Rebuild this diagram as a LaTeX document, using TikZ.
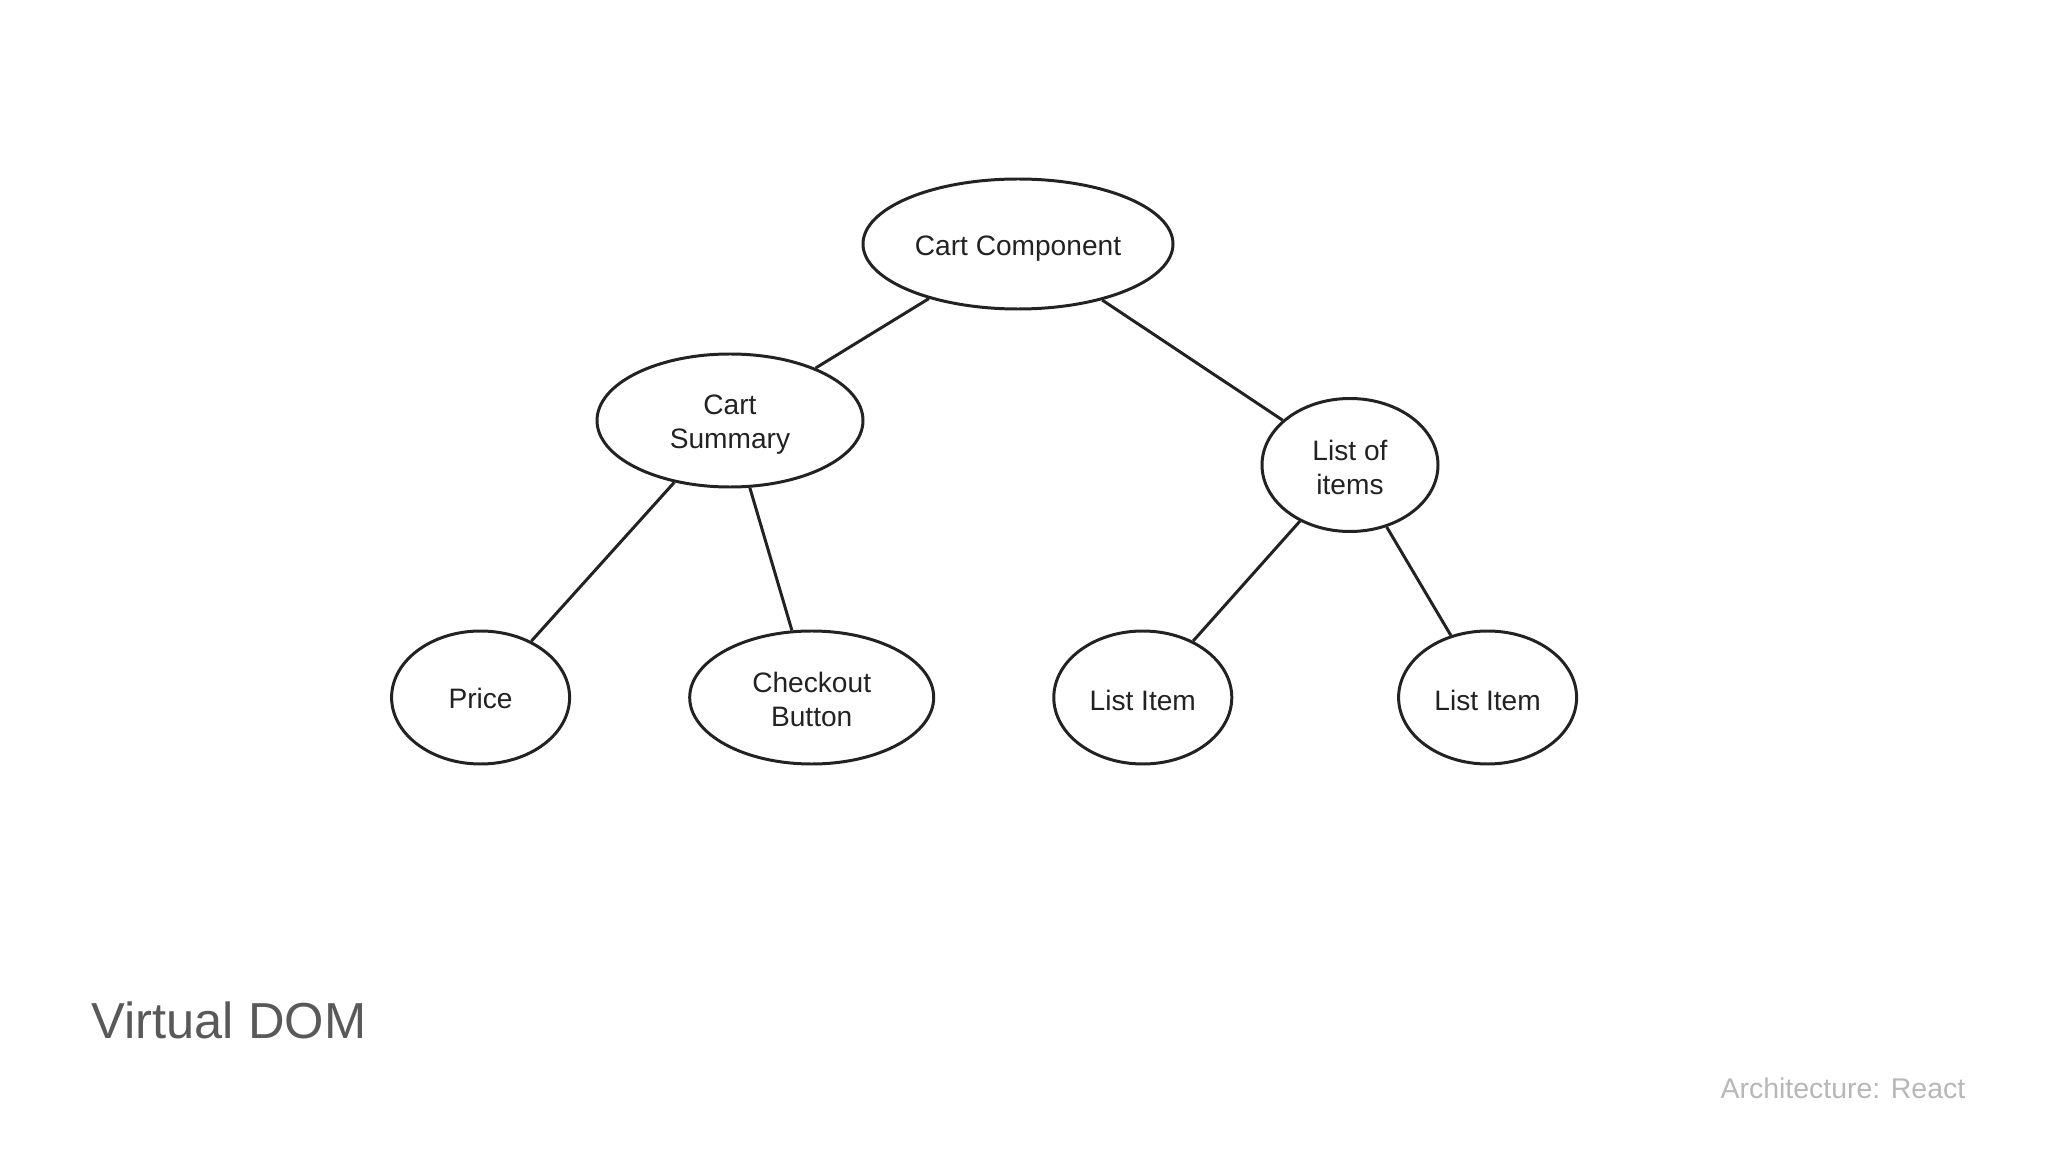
\documentclass[tikz,border=0pt]{standalone}
\usepackage{fontspec}
\setmainfont{Liberation Sans}
\usetikzlibrary{shapes.geometric}
\definecolor{inkdark}{HTML}{222222}
\definecolor{titlegray}{HTML}{595959}
\definecolor{footgray}{HTML}{B7B7B7}
\tikzset{
  domnode/.style={ellipse, draw=inkdark, line width=0.85pt, inner sep=0pt, align=center,
    text=inkdark, font=\fontsize{8}{9.7}\selectfont, minimum height=1.33cm},
}

\begin{document}
\begin{tikzpicture}
    \useasboundingbox (0,0) rectangle (20.48,-11.52);

    \node[domnode, minimum width=3.10cm, minimum height=1.30cm, text height=8pt] (1) at (10.18,-2.44) {Cart Component};
    \node[domnode, minimum width=2.66cm, text height=17.7pt] (2) at (7.30,-4.205) {Cart\\Summary};
    \node[domnode, minimum width=1.76cm, text height=17pt] (3) at (13.50,-4.65) {List of\\items};
    \node[domnode, minimum width=1.78cm, text height=6.5pt] (4) at (4.806,-6.975) {Price};
    \node[domnode, minimum width=2.44cm, text height=16.6pt] (5) at (8.117,-6.975) {Checkout\\Button};
    \node[domnode, minimum width=1.78cm, text height=7.3pt] (6) at (11.428,-6.975) {List Item};
    \node[domnode, minimum width=1.78cm, text height=7.3pt] (7) at (14.876,-6.975) {List Item};

    \node[anchor=base west, inner sep=0pt, text=titlegray, font=\fontsize{14.4}{17}\selectfont] (title) at (0.91,-10.38) {Virtual DOM};
    \node[anchor=base east, inner sep=0pt, text=footgray, font=\fontsize{8.1}{10}\selectfont] (foot) at (19.66,-10.985) {Architecture: React};

    \path[draw=inkdark, line width=0.85pt]
	(1) edge (2)
	(1) edge (3)
	(2) edge (4)
	(2) edge (5)
	(3) edge (6)
	(3) edge (7);
\end{tikzpicture}
\end{document}
